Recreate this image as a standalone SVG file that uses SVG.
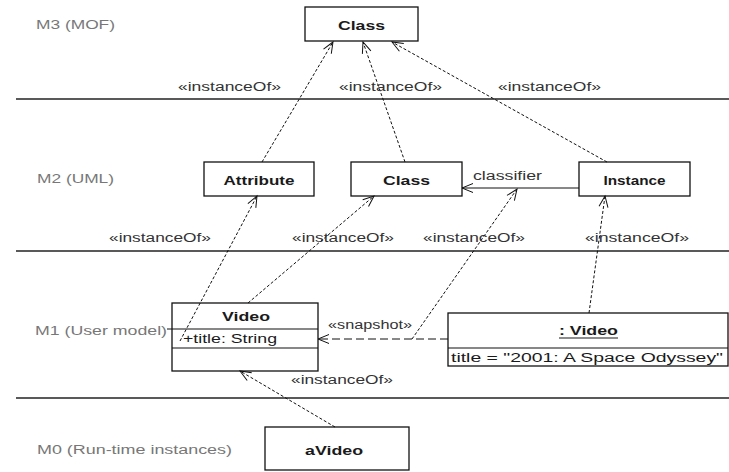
<svg xmlns="http://www.w3.org/2000/svg" width="729" height="472" viewBox="0 0 729 472">
<style>
  text { font-family: "Liberation Sans", Arial, sans-serif; }
  .box { fill: #fff; stroke: #111; stroke-width: 1.3; }
  .sep { stroke: #111; stroke-width: 1.2; }
  .name { font-size: 13px; font-weight: bold; fill: #1a1a1a; text-anchor: middle; dominant-baseline: central; }
  .attr { font-size: 12.5px; fill: #1a1a1a; dominant-baseline: central; }
  .level { font-size: 12.5px; fill: #777; dominant-baseline: central; }
  .lbl { font-size: 12.5px; fill: #333; dominant-baseline: central; }
  .band { stroke: #222; stroke-width: 1.4; }
  .dep { fill: none; stroke: #111; stroke-width: 1; stroke-dasharray: 3 2; marker-end: url(#open); }
  .snap { fill: none; stroke: #111; stroke-width: 1; stroke-dasharray: 8 4; marker-end: url(#open); }
  .assoc { fill: none; stroke: #111; stroke-width: 1; marker-end: url(#open); }
</style>
<defs>
  <marker id="open" markerUnits="userSpaceOnUse" markerWidth="14" markerHeight="12" refX="12" refY="5" orient="auto" viewBox="0 0 14 10">
    <path d="M1,0.5 L12,5 L1,9.5" fill="none" stroke="#111" stroke-width="1"/>
  </marker>
</defs>
<rect x="0" y="0" width="729" height="472" fill="#fff"/>

<g id="bands">
  <line class="band" x1="16" y1="99" x2="729" y2="99"/>
  <line class="band" x1="16" y1="251" x2="729" y2="251"/>
  <line class="band" x1="16" y1="398" x2="729" y2="398"/>
  <text class="level" x="36" y="25" textLength="79" lengthAdjust="spacingAndGlyphs">M3 (MOF)</text>
  <text class="level" x="37" y="179" textLength="77" lengthAdjust="spacingAndGlyphs">M2 (UML)</text>
  <text class="level" x="35" y="331" textLength="132" lengthAdjust="spacingAndGlyphs">M1 (User model)</text>
  <text class="level" x="37" y="450" textLength="195" lengthAdjust="spacingAndGlyphs">M0 (Run-time instances)</text>
</g>

<g id="m3-class">
  <rect class="box" x="305" y="7" width="113" height="34"/>
  <text class="name" x="361.5" y="25" textLength="47" lengthAdjust="spacingAndGlyphs">Class</text>
</g>
<g id="m2-attribute">
  <rect class="box" x="204" y="162" width="110" height="34"/>
  <text class="name" x="259" y="180" textLength="71" lengthAdjust="spacingAndGlyphs">Attribute</text>
</g>
<g id="m2-class">
  <rect class="box" x="351" y="162" width="111" height="34"/>
  <text class="name" x="406.5" y="180" textLength="47" lengthAdjust="spacingAndGlyphs">Class</text>
</g>
<g id="m2-instance">
  <rect class="box" x="579" y="162" width="111" height="34"/>
  <text class="name" x="634.5" y="180" textLength="62" lengthAdjust="spacingAndGlyphs">Instance</text>
</g>
<g id="m1-video">
  <rect class="box" x="172" y="303" width="146" height="68"/>
  <line class="sep" x1="172" y1="329" x2="318" y2="329"/>
  <line class="sep" x1="172" y1="348" x2="318" y2="348"/>
  <text class="name" x="246" y="316" textLength="48" lengthAdjust="spacingAndGlyphs">Video</text>
  <text class="attr" x="183" y="339" textLength="94" lengthAdjust="spacingAndGlyphs">+title: String</text>
</g>
<g id="m1-video-instance">
  <rect class="box" x="448" y="313" width="280" height="53"/>
  <line class="sep" x1="448" y1="348" x2="728" y2="348"/>
  <text class="name" x="588.5" y="330" textLength="59" lengthAdjust="spacingAndGlyphs">: Video</text>
  <line x1="559" y1="338" x2="618" y2="338" stroke="#1a1a1a" stroke-width="1.2"/>
  <text class="attr" x="451" y="358" textLength="272" lengthAdjust="spacingAndGlyphs">title = "2001: A Space Odyssey"</text>
</g>
<g id="m0-avideo">
  <rect class="box" x="265" y="427" width="144" height="43"/>
  <text class="name" x="334" y="450" textLength="58" lengthAdjust="spacingAndGlyphs">aVideo</text>
</g>

<g id="connectors">
  <path class="dep" d="M262,162 L333,42"/>
  <path class="dep" d="M405,162 L363,42"/>
  <path class="dep" d="M607,162 L392,42"/>
  <path class="assoc" d="M579,188 L462,188"/>
  <path class="dep" d="M180,341 L257,196"/>
  <path class="dep" d="M248,303 L374,196"/>
  <path class="dep" d="M412,339 L517,189"/>
  <path class="dep" d="M589,313 L605,196"/>
  <path class="snap" d="M448,339 L318,339"/>
  <path class="dep" d="M335,427 L240,371"/>
  <line x1="167" y1="329" x2="172" y2="329" stroke="#111" stroke-width="1"/>
  <text class="lbl" x="178" y="87" textLength="103" lengthAdjust="spacingAndGlyphs">«instanceOf»</text>
  <text class="lbl" x="339" y="87" textLength="103" lengthAdjust="spacingAndGlyphs">«instanceOf»</text>
  <text class="lbl" x="498" y="87" textLength="103" lengthAdjust="spacingAndGlyphs">«instanceOf»</text>
  <text class="lbl" x="473" y="176" textLength="69" lengthAdjust="spacingAndGlyphs">classifier</text>
  <text class="lbl" x="109" y="238" textLength="102" lengthAdjust="spacingAndGlyphs">«instanceOf»</text>
  <text class="lbl" x="292" y="238" textLength="102" lengthAdjust="spacingAndGlyphs">«instanceOf»</text>
  <text class="lbl" x="423" y="238" textLength="102" lengthAdjust="spacingAndGlyphs">«instanceOf»</text>
  <text class="lbl" x="585" y="238" textLength="104" lengthAdjust="spacingAndGlyphs">«instanceOf»</text>
  <text class="lbl" x="328" y="325" textLength="84" lengthAdjust="spacingAndGlyphs">«snapshot»</text>
  <text class="lbl" x="291" y="380" textLength="102" lengthAdjust="spacingAndGlyphs">«instanceOf»</text>
</g>
</svg>
